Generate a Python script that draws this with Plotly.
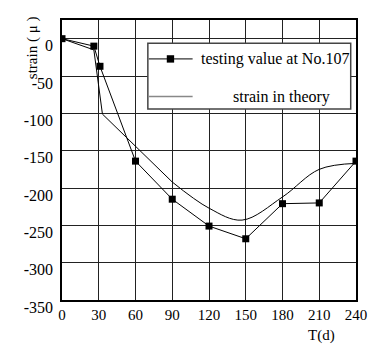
import plotly.graph_objects as go

# testing value at No.107
test_x = [0, 26, 31, 60, 90, 120, 150, 180, 210, 240]
test_y = [0, -10, -37, -164, -215, -251, -268, -221, -220, -164]

# strain in theory: straight part and smooth part
theo_lin_x = [0, 26, 33, 90]
theo_lin_y = [0, -15, -101, -192]
theo_spl_x = [90, 120, 147, 180, 210, 240]
theo_spl_y = [-192, -227, -243, -212, -175, -167]

x_ticks = [0, 30, 60, 90, 120, 150, 180, 210, 240]
y_ticks = [0, -50, -100, -150, -200, -250, -300, -350]

legend_labels = ["testing value at No.107", "strain in theory"]

FONT = "Liberation Serif"

fig = go.Figure()
fig.add_trace(go.Scatter(x=theo_lin_x, y=theo_lin_y, mode="lines",
                         line=dict(color="black", width=1), showlegend=False))
fig.add_trace(go.Scatter(x=theo_spl_x, y=theo_spl_y, mode="lines",
                         line=dict(color="black", width=1, shape="spline", smoothing=1.0),
                         showlegend=False))
fig.add_trace(go.Scatter(x=test_x, y=test_y, mode="lines+markers",
                         line=dict(color="black", width=1),
                         marker=dict(symbol="square", size=7, color="black"),
                         showlegend=False))

# legend (drawn manually)
lx0, lx1, ly0, ly1 = 0.292, 0.982, 0.6825, 0.9169
shapes = [
    dict(type="rect", xref="paper", yref="paper", x0=lx0, x1=lx1, y0=ly0, y1=ly1,
         line=dict(color="#444", width=1.5), fillcolor="white", layer="above"),
    dict(type="line", xref="paper", yref="paper", x0=0.2954, x1=0.4443, y0=0.861, y1=0.861,
         line=dict(color="black", width=1), layer="above"),
    dict(type="rect", xref="paper", yref="paper", x0=0.3689 - 0.0125, x1=0.3689 + 0.0125,
         y0=0.861 - 0.0132, y1=0.861 + 0.0132, line=dict(width=0), fillcolor="black", layer="above"),
    dict(type="line", xref="paper", yref="paper", x0=0.2954, x1=0.4443, y0=0.7264, y1=0.7264,
         line=dict(color="#888", width=1.5), layer="above"),
]
annotations = [
    dict(text=legend_labels[0], xref="paper", yref="paper", x=0.467, y=0.861,
         xanchor="left", yanchor="middle", showarrow=False,
         font=dict(family=FONT, size=16, color="black")),
    dict(text=legend_labels[1], xref="paper", yref="paper", x=0.575, y=0.7264,
         xanchor="left", yanchor="middle", showarrow=False,
         font=dict(family=FONT, size=16, color="black")),
    dict(text="strain ( μ )", xref="paper", yref="paper", x=-0.098, y=0.9,
         xanchor="center", yanchor="middle", textangle=-90, showarrow=False,
         font=dict(family=FONT, size=15, color="black")),
    dict(text="T(d)", xref="paper", yref="paper", x=0.882, y=-0.126,
         xanchor="center", yanchor="middle", showarrow=False,
         font=dict(family=FONT, size=15, color="black")),
]

fig.update_layout(
    width=379, height=345,
    margin=dict(l=62, r=21, t=20, b=45),
    paper_bgcolor="white", plot_bgcolor="white",
    font=dict(family=FONT, size=15, color="black"),
    shapes=shapes, annotations=annotations,
    showlegend=False,
    xaxis=dict(range=[0, 240], tickvals=x_ticks, ticktext=[str(v) for v in x_ticks],
               tickfont=dict(family=FONT, size=15, color="black"),
               showgrid=True, gridcolor="#222", gridwidth=1,
               showline=True, linecolor="black", linewidth=1.5, mirror=True,
               zeroline=False, ticks="", ticklabelstandoff=0),
    yaxis=dict(range=[-350, 25], tickvals=y_ticks, ticktext=[str(v) for v in y_ticks],
               tickfont=dict(family=FONT, size=16, color="black"),
               showgrid=True, gridcolor="#222", gridwidth=1,
               showline=True, linecolor="black", linewidth=1.5, mirror=True,
               zeroline=False, ticks="", ticklabelstandoff=4, ticklabelshift=7),
)

fig.write_html("out.html")
